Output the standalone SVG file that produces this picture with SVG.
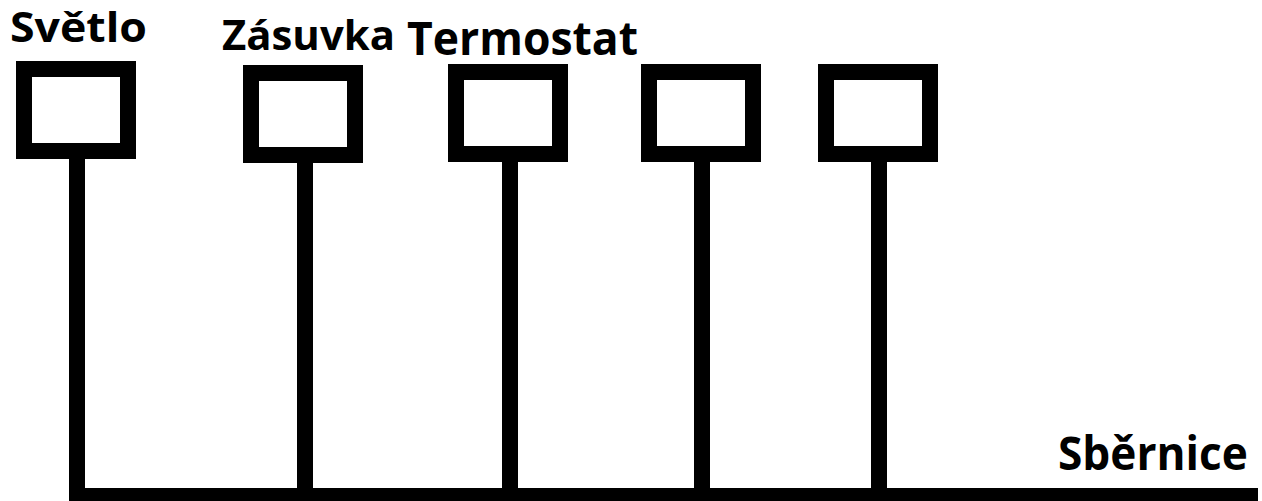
<svg xmlns="http://www.w3.org/2000/svg" width="1262" height="501" viewBox="0 0 1262 501">
  <style>
    .box { fill: #fff; stroke: #000; stroke-width: 16; }
    .wire { stroke: #000; stroke-width: 16; fill: none; }
    .lbl { font-family: "Open Sans", "Liberation Sans", sans-serif; font-weight: bold; fill: #000; }
  </style>
  <rect width="1262" height="501" fill="#fff"/>
  <g id="connectors">
    <line class="wire" x1="77" y1="151" x2="77" y2="496"/>
    <line class="wire" x1="305" y1="155" x2="305" y2="496"/>
    <line class="wire" x1="510" y1="154" x2="510" y2="496"/>
    <line class="wire" x1="702" y1="154" x2="702" y2="496"/>
    <line class="wire" x1="879" y1="154" x2="879" y2="496"/>
    <line id="bus" class="wire" x1="69" y1="496" x2="1258" y2="496"/>
  </g>
  <g id="node-svetlo">
    <rect class="box" x="24" y="69" width="104" height="82"/>
    <text class="lbl" x="10" y="42" font-size="41" textLength="137" lengthAdjust="spacingAndGlyphs">Světlo</text>
  </g>
  <g id="node-zasuvka">
    <rect class="box" x="251" y="73" width="104" height="82"/>
    <text class="lbl" x="222" y="50" font-size="42" textLength="173" lengthAdjust="spacingAndGlyphs">Zásuvka</text>
  </g>
  <g id="node-termostat">
    <rect class="box" x="456" y="72" width="104" height="82"/>
    <text class="lbl" x="407" y="55" font-size="46" textLength="231" lengthAdjust="spacingAndGlyphs">Termostat</text>
  </g>
  <g id="node-4">
    <rect class="box" x="649" y="72" width="104" height="82"/>
  </g>
  <g id="node-5">
    <rect class="box" x="826" y="72" width="104" height="82"/>
  </g>
  <g id="label-sbernice">
    <text class="lbl" x="1058" y="470" font-size="46" textLength="190" lengthAdjust="spacingAndGlyphs">Sběrnice</text>
  </g>
</svg>
